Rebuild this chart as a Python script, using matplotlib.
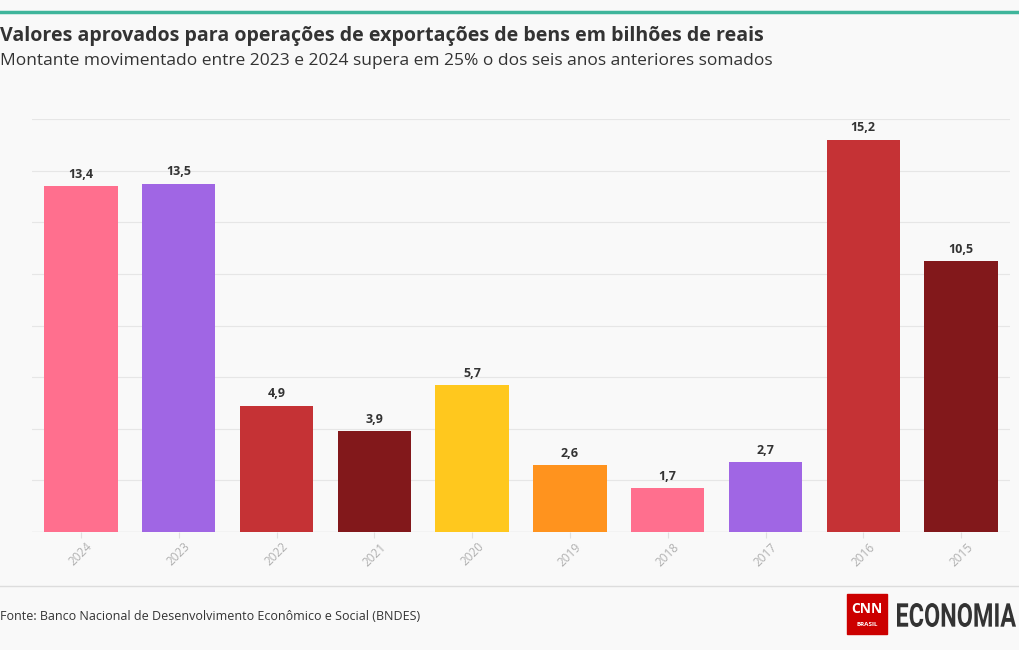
import matplotlib.pyplot as plt
from matplotlib.patches import Rectangle, PathPatch
from matplotlib.lines import Line2D
from matplotlib.textpath import TextPath
from matplotlib.font_manager import FontProperties
from matplotlib.transforms import Affine2D, IdentityTransform

# Dados (bilhões de reais)
anos = ["2024", "2023", "2022", "2021", "2020", "2019", "2018", "2017", "2016", "2015"]
valores = [13.4, 13.5, 4.9, 3.9, 5.7, 2.6, 1.7, 2.7, 15.2, 10.5]
cores = ["#ff6f8e", "#a066e4", "#c53235", "#82181b", "#ffc81e",
         "#ff931e", "#ff6f8e", "#a066e4", "#c53235", "#82181b"]

titulo = "Valores aprovados para operações de exportações de bens em bilhões de reais"
subtitulo = "Montante movimentado entre 2023 e 2024 supera em 25% o dos seis anos anteriores somados"
fonte = "Fonte: Banco Nacional de Desenvolvimento Econômico e Social (BNDES)"

plt.rcParams["font.family"] = ["Open Sans", "DejaVu Sans"]
bg = "#f9f9f9"
W, H = 1020, 650

fig = plt.figure(figsize=(W / 100, H / 100), dpi=100, facecolor=bg)

# barra superior
fig.add_artist(Line2D([0, 1], [1 - 12 / H, 1 - 12 / H], color="#3fb59b", lw=2.5))

fig.text(0 / W, 1 - 36 / H, titulo, fontsize=14.1, fontweight="bold",
         color="#333333", va="center", ha="left")
fig.text(0 / W, 1 - 61 / H, subtitulo, fontsize=12.5, color="#333333",
         va="center", ha="left")

ax = fig.add_axes([32 / W, 1 - 532 / H, 978 / W, 413 / H])
ax.set_facecolor(bg)
x = range(len(anos))
ax.bar(x, valores, width=0.75, color=cores, zorder=2)
ax.set_xlim(-0.5, len(anos) - 0.5)
ax.set_ylim(0, 16)
ax.set_yticks(range(0, 17, 2))
ax.set_yticklabels([])
ax.tick_params(axis="y", length=0)
ax.grid(axis="y", color="#e6e6e6", lw=0.8, zorder=0)
for s in ax.spines.values():
    s.set_visible(False)
ax.axhline(0, color="#e0e0e0", lw=1, zorder=1)
ax.set_xticks(list(x))
ax.set_xticklabels(anos, rotation=45, color="#b0b0b0", fontsize=8.5)
ax.tick_params(axis="x", length=4, color="#e0e0e0", pad=2)
for xi, v in zip(x, valores):
    ax.text(xi, v + 0.2, f"{v:.1f}".replace(".", ","), ha="center", va="bottom",
            fontsize=9, fontweight="bold", color="#333333")

# rodapé
fig.add_artist(Line2D([0, 1], [1 - 586 / H, 1 - 586 / H], color="#dddddd", lw=1))
fig.text(0, 1 - 617 / H, fonte, fontsize=9, color="#333333", va="center", ha="left")

# logo
fig.add_artist(Rectangle((847 / W, 1 - 634 / H), 40 / W, 40 / H,
                         transform=fig.transFigure, color="#cc0000"))
fig.text(867 / W, 1 - 609 / H, "CNN", fontsize=10, fontweight="bold", color="white",
         ha="center", va="center")
fig.text(867 / W, 1 - 625 / H, "BRASIL", fontsize=4.5, fontweight="bold", color="white",
         ha="center", va="center")

# "ECONOMIA" esticado para caber na caixa do logo
tp = TextPath((0, 0), "ECONOMIA", size=20,
              prop=FontProperties(family="Roboto", weight="bold"))
bb = tp.get_extents()
x0, x1, y0, y1 = 897, 1016, H - 627, H - 603
tr = (Affine2D().translate(-bb.x0, -bb.y0)
      .scale((x1 - x0) / bb.width, (y1 - y0) / bb.height)
      .translate(x0, y0))
fig.add_artist(PathPatch(tr.transform_path(tp), transform=IdentityTransform(),
                         color="#333333", lw=0))

fig.savefig("out.png", dpi=100, facecolor=bg)
